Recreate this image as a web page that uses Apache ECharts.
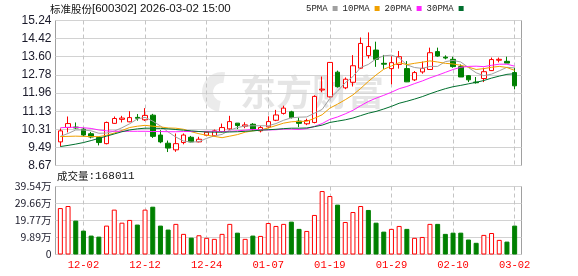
<!DOCTYPE html>
<html><head><meta charset="utf-8">
<script src="https://cdn.jsdelivr.net/npm/echarts@6.0.0/dist/echarts.min.js"></script>
<style>html,body{margin:0;padding:0;background:#fff}#c{width:578px;height:276px}</style>
</head><body><div id="c"></div>
<script>
const dates = ['11-27','11-28','12-01','12-02','12-03','12-04','12-05','12-08','12-09','12-10','12-11','12-12','12-15','12-16','12-17','12-18','12-19','12-22','12-23','12-24','12-25','12-26','12-29','12-30','12-31','01-05','01-06','01-07','01-08','01-09','01-12','01-13','01-14','01-15','01-16','01-19','01-20','01-21','01-22','01-23','01-26','01-27','01-28','01-29','01-30','02-02','02-03','02-04','02-05','02-06','02-09','02-10','02-11','02-12','02-13','02-24','02-25','02-26','02-27','03-02'];
const labelDates = ['12-02','12-12','12-24','01-07','01-19','01-29','02-10','03-02'];
const opens  = [9.74,10.39,10.41,10.32,10.11,9.94,9.66,10.58,10.76,10.65, 10.85,10.74,10.95,10.05,9.68,9.38,9.71,9.95,9.74,10.04, 10.02,10.21,10.33,10.59,10.45,10.54,10.24,10.42,10.72,11.03, 11.10,10.68,10.56,10.62,12.09,11.78,12.90,12.19,12.44,13.08, 13.65,13.90,13.30,13.06,13.25,13.06,12.55,12.91,13.02,13.83, 13.58,13.48,13.15,12.74,12.45,12.61,12.97,13.44,13.39,12.88];
const closes = [10.24,10.57,10.37,10.05,9.96,9.71,10.62,10.80,10.82,10.84, 10.81,10.94,9.99,9.74,9.46,9.66,10.05,9.74,9.86,10.18, 10.24,10.39,10.66,10.48,10.51,10.32,10.39,10.66,10.96,11.27, 10.85,10.58,10.71,11.80,12.13,13.34,12.24,12.58,13.19,14.20, 14.06,13.48,13.26,13.33,13.60,12.46,12.88,13.07,13.78,13.63, 13.54,13.15,12.68,12.55,12.42,12.92,13.47,13.48,13.31,12.28];
const lows   = [9.53,10.17,10.33,9.99,9.90,9.58,9.63,10.56,10.62,10.63, 10.70,10.69,9.92,9.68,9.28,9.29,9.63,9.72,9.72,10.00, 9.98,10.17,10.29,10.32,10.36,10.24,10.17,10.38,10.68,10.98, 10.80,10.41,10.50,10.58,11.99,11.75,12.20,12.13,12.25,13.04, 13.52,13.14,13.05,12.35,13.06,12.45,12.50,12.83,13.02,13.60, 13.48,13.10,12.68,12.45,12.38,12.45,12.95,13.34,13.31,12.12];
const highs  = [10.35,10.89,10.62,10.38,10.19,9.97,10.66,10.89,10.92,11.13, 11.00,11.27,11.01,10.27,9.80,10.12,10.12,10.01,9.97,10.22, 10.30,10.57,10.92,10.59,10.63,10.59,10.47,10.90,11.19,11.38, 11.15,10.84,10.79,11.85,12.70,13.36,12.97,12.66,13.67,14.47, 14.70,14.28,13.68,13.62,13.86,13.40,12.95,13.38,14.01,14.01, 13.66,13.60,13.25,12.77,12.68,13.10,13.56,13.56,13.60,13.10];
const vols   = [27.0,28.2,19.7,13.9,11.0,10.4,16.8,26.1,18.5,20.1, 17.4,26.1,27.8,16.8,14.5,17.8,12.0,9.8,11.2,9.7, 9.1,12.0,17.8,12.7,9.1,11.0,10.8,18.3,16.6,17.8, 19.1,14.9,13.7,23.0,36.9,34.0,29.0,18.9,24.7,28.2, 25.9,18.5,13.3,14.9,16.6,14.9,9.7,10.2,17.8,17.8, 12.0,12.7,12.7,8.7,6.8,11.4,12.5,8.5,7.5,16.8011];
const ma5  = [9.99,10.12,10.28,10.28,10.24,10.13,10.14,10.23,10.38,10.56, 10.78,10.85,10.68,10.46,10.19,9.96,9.78,9.73,9.75,9.90, 10.01,10.08,10.27,10.39,10.46,10.47,10.47,10.47,10.57,10.72, 10.83,10.86,10.87,11.04,11.21,11.71,12.04,12.42,12.70,13.11, 13.25,13.50,13.64,13.67,13.55,13.23,13.11,13.07,13.16,13.16, 13.38,13.43,13.36,13.11,12.87,12.74,12.81,12.96,13.12,13.09];
const ma10 = [9.98,9.99,10.00,9.99,9.98,9.98,10.04,10.14,10.26,10.39, 10.45,10.49,10.45,10.42,10.37,10.36,10.31,10.20,10.11,10.04, 9.99,9.93,10.00,10.07,10.18,10.24,10.28,10.37,10.48,10.59, 10.65,10.67,10.67,10.81,10.97,11.27,11.45,11.65,11.87,12.16, 12.48,12.77,13.03,13.18,13.33,13.24,13.30,13.35,13.41,13.36, 13.30,13.27,13.21,13.13,13.02,13.06,13.12,13.16,13.11,12.98];
const ma20 = [10.38,10.40,10.40,10.38,10.35,10.28,10.24,10.22,10.22,10.22, 10.22,10.22,10.21,10.21,10.20,10.20,10.21,10.21,10.21,10.22, 10.22,10.21,10.22,10.24,10.27,10.30,10.29,10.28,10.29,10.32, 10.32,10.30,10.34,10.44,10.57,10.76,10.87,11.01,11.17,11.38, 11.57,11.72,11.85,11.99,12.15,12.25,12.38,12.50,12.64,12.76, 12.89,13.02,13.12,13.16,13.17,13.15,13.21,13.26,13.26,13.17];
const ma30 = [9.53,9.58,9.64,9.71,9.80,9.90,10.00,10.10,10.20,10.28, 10.33,10.36,10.36,10.35,10.33,10.30,10.27,10.24,10.21,10.19, 10.18,10.18,10.19,10.20,10.22,10.24,10.27,10.29,10.31,10.34, 10.36,10.36,10.37,10.43,10.50,10.62,10.68,10.74,10.82,10.93, 11.04,11.12,11.23,11.35,11.49,11.58,11.68,11.79,11.92,12.04, 12.15,12.24,12.30,12.37,12.44,12.52,12.63,12.72,12.80,12.83];
const priceTicks = [8.67,9.49,10.31,11.13,11.96,12.78,13.60,14.42,15.24];
const volTicks = [0,9.885,19.77,29.655,39.54];
const volTickLabels = ['0','9.89万','19.77万','29.66万','39.54万'];
const maNames = ['5PMA','10PMA','20PMA','30PMA'];

const upColor = '#ff0000', downColor = '#008000';
const maColors = ['#a0a0a0','#f0a000','#ff22ff','#006f2e'];
const candleData = opens.map((o, i) => [o, closes[i], lows[i], highs[i]]);
// volume colour: close vs previous close (first day: close vs open)
const volData = vols.map((v, i) => {
  const up = i === 0 ? closes[i] >= opens[i] : closes[i] >= closes[i - 1];
  return {
    value: v,
    itemStyle: up
      ? { color: '#ffffff', borderColor: upColor, borderWidth: 1 }
      : { color: downColor, borderColor: downColor, borderWidth: 1 }
  };
});
const maSeries = [ma5, ma10, ma20, ma30].map((d, k) => ({
  name: maNames[k], type: 'line', xAxisIndex: 1, yAxisIndex: 1, data: d,
  symbol: 'none', showSymbol: false, smooth: false,
  lineStyle: { width: 1, color: maColors[k] }, itemStyle: { color: maColors[k] }, z: 3
}));
const isLabel = (i, v) => labelDates.indexOf(v) >= 0;
const dashed = { show: true, alignWithLabel: true, interval: isLabel, lineStyle: { type: [4, 3], color: '#c4c4c4', width: 1 } };
const solidGrid = { show: true, lineStyle: { color: '#d2d2d2', width: 1 } };
const fr = 'Liberation Sans';
const richTitle = {
  c: { fontFamily: 'Noto Sans CJK SC', fontSize: 10.5, fontWeight: 'normal', color: '#111' },
  m: { fontFamily: 'Liberation Sans', fontSize: 11.5, fontWeight: 'normal', color: '#111' }
};
const richVol = {
  c: { fontFamily: 'Noto Sans CJK SC', fontSize: 10.5, fontWeight: 'normal', color: '#111' },
  m: { fontFamily: 'Liberation Mono', fontSize: 11, fontWeight: 'normal', color: '#111' }
};

const chart = echarts.init(document.getElementById('c'), null, { renderer: 'canvas', width: 578, height: 276 });
chart.setOption({
  animation: false,
  backgroundColor: '#ffffff',
  title: [
    { text: '{c|标准股份}{m|[600302] 2026-03-02 15:00}', left: 50, top: 3, padding: 0,
      textStyle: { fontWeight: 'normal', fontSize: 11, rich: richTitle } },
    { text: '{c|成交量}{m|:' + Math.round(vols[vols.length - 1] * 10000) + '}', left: 57, top: 171, padding: 0,
      textStyle: { fontWeight: 'normal', fontSize: 11, rich: richVol } }
  ],
  legend: {
    data: maNames.map(n => ({ name: n, icon: 'rect' })),
    left: 306, top: 4, padding: 0, align: 'right', itemWidth: 5, itemHeight: 5, itemGap: 5,
    selectedMode: false,
    textStyle: { fontFamily: 'Liberation Mono', fontSize: 9, color: '#222' }
  },
  graphic: [
    { type: 'sector', z: -10, silent: true,
      shape: { cx: 222, cy: 92, r: 20, r0: 9, startAngle: Math.PI * 0.55, endAngle: Math.PI * 1.55 },
      style: { fill: 'rgba(0,0,0,0.08)' } },
    { type: 'text', left: 240, top: 74, z: -10, silent: true,
      style: { text: '东方财富', font: 'bold 36px "Noto Sans CJK SC"', fill: 'rgba(0,0,0,0.1)' } }
  ],
  grid: [
    { left: 55.5, top: 20.5, width: 466, height: 145, show: true, borderColor: '#a0a0a0', borderWidth: 1, backgroundColor: 'transparent' },
    { left: 56.5, top: 20.5, width: 462, height: 145 },
    { left: 55.5, top: 186.5, width: 466, height: 68, show: true, borderColor: '#a0a0a0', borderWidth: 1, backgroundColor: 'transparent' },
    { left: 56.5, top: 186.5, width: 462, height: 68 }
  ],
  xAxis: [
    { gridIndex: 0, type: 'category', data: dates, show: false },
    { gridIndex: 1, type: 'category', data: dates, boundaryGap: true,
      axisLine: { show: false }, axisTick: { show: false }, axisLabel: { show: false }, splitLine: dashed },
    { gridIndex: 2, type: 'category', data: dates, show: false },
    { gridIndex: 3, type: 'category', data: dates, boundaryGap: true,
      axisLine: { show: false }, axisTick: { show: false },
      axisLabel: { interval: isLabel, color: '#ff0000', fontFamily: 'Liberation Mono', fontSize: 10.5, margin: 5 },
      splitLine: dashed }
  ],
  yAxis: [
    { gridIndex: 0, type: 'value', min: 8.67, max: 15.24,
      axisLine: { show: false }, axisTick: { show: false, customValues: priceTicks },
      axisLabel: { customValues: priceTicks, formatter: v => v.toFixed(2), color: '#1a1a2a', fontFamily: fr, fontSize: 12, margin: 4 },
      splitLine: solidGrid },
    { gridIndex: 1, type: 'value', min: 8.67, max: 15.24, show: false, splitLine: { show: false } },
    { gridIndex: 2, type: 'value', min: 0, max: 39.54,
      axisLine: { show: false }, axisTick: { show: false, customValues: volTicks },
      axisLabel: { customValues: volTicks, formatter: v => volTickLabels[Math.round(v / 9.885)], color: '#1a1a2a', fontFamily: 'Noto Sans CJK SC', fontSize: 10.5, margin: 4 },
      splitLine: solidGrid },
    { gridIndex: 3, type: 'value', min: 0, max: 39.54, show: false, splitLine: { show: false } }
  ],
  series: [
    { type: 'candlestick', xAxisIndex: 1, yAxisIndex: 1, data: candleData, barWidth: 5,
      itemStyle: { color: '#ffffff', color0: downColor, borderColor: upColor, borderColor0: downColor, borderWidth: 1 } },
    ...maSeries,
    { type: 'bar', xAxisIndex: 3, yAxisIndex: 3, data: volData, barWidth: 5 }
  ]
});
</script>
</body></html>
